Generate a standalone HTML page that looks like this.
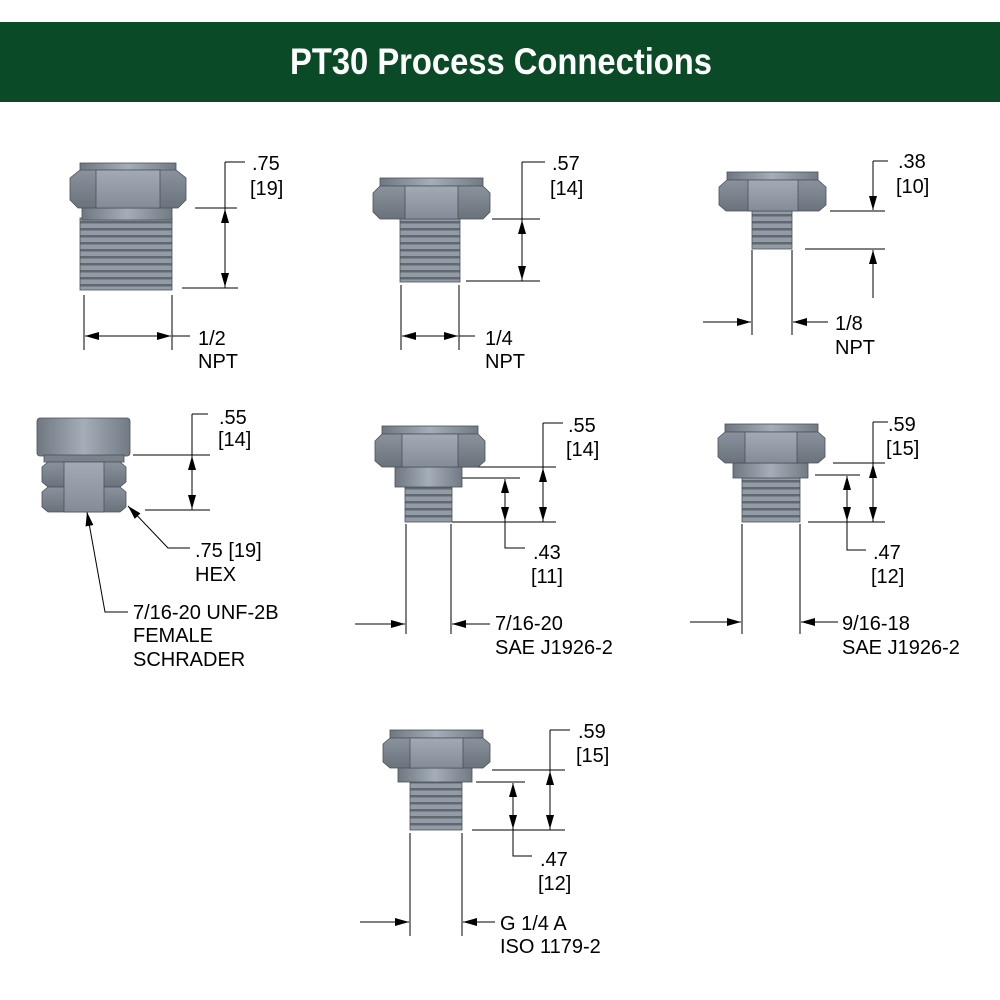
<!DOCTYPE html>
<html><head><meta charset="utf-8"><style>
html,body{margin:0;padding:0;background:#fff}
svg{display:block}
text{font-family:"Liberation Sans",Arial,sans-serif;font-size:20px;fill:#000}
</style></head><body>
<svg width="1000" height="1000" viewBox="0 0 1000 1000" xmlns="http://www.w3.org/2000/svg">
<defs>
<linearGradient id="hx" x1="0" y1="0" x2="0" y2="1"><stop offset="0" stop-color="#8a939d"/><stop offset="1" stop-color="#6a727c"/></linearGradient>
<linearGradient id="hf" x1="0" y1="0" x2="0" y2="1"><stop offset="0" stop-color="#a2abb5"/><stop offset="1" stop-color="#848d97"/></linearGradient>
<linearGradient id="cap" x1="0" y1="0" x2="1" y2="0"><stop offset="0" stop-color="#6f7781"/><stop offset=".5" stop-color="#a5aeb8"/><stop offset="1" stop-color="#727a84"/></linearGradient>
<pattern id="th" width="8" height="7" patternUnits="userSpaceOnUse"><rect width="8" height="7" fill="#939ca6"/><rect y="4" width="8" height="2.5" fill="#606870"/></pattern>
<marker id="a" markerWidth="14" markerHeight="8" refX="14" refY="4" orient="auto" markerUnits="userSpaceOnUse"><path d="M0,0 L14,4 L0,8 Z" fill="#000"/></marker>
</defs>
<rect x="0" y="22" width="1000" height="80" fill="#0b4a26"/>
<text x="290" y="74" textLength="422" lengthAdjust="spacingAndGlyphs" style="font-size:37px;font-weight:bold;fill:#fff">PT30 Process Connections</text>

<g stroke="#000" stroke-width="1" fill="none">
<!-- F1 -->
<line x1="225" y1="162" x2="245" y2="162"/><line x1="225" y1="162" x2="225" y2="288"/>
<line x1="225" y1="248" x2="225" y2="209" marker-end="url(#a)"/><line x1="225" y1="248" x2="225" y2="287" marker-end="url(#a)"/>
<line x1="195" y1="208" x2="237" y2="208"/><line x1="182" y1="288" x2="238" y2="288"/>
<line x1="84" y1="295" x2="84" y2="350"/><line x1="172" y1="295" x2="172" y2="350"/>
<line x1="128" y1="336" x2="85" y2="336" marker-end="url(#a)"/><line x1="128" y1="336" x2="171" y2="336" marker-end="url(#a)"/><line x1="172" y1="336" x2="190" y2="336"/>
<!-- F2 -->
<line x1="522" y1="162" x2="545" y2="162"/><line x1="522" y1="162" x2="522" y2="281"/>
<line x1="522" y1="250" x2="522" y2="220" marker-end="url(#a)"/><line x1="522" y1="250" x2="522" y2="280" marker-end="url(#a)"/>
<line x1="492" y1="219" x2="540" y2="219"/><line x1="466" y1="281" x2="540" y2="281"/>
<line x1="401" y1="285" x2="401" y2="350"/><line x1="459" y1="285" x2="459" y2="350"/>
<line x1="430" y1="336" x2="402" y2="336" marker-end="url(#a)"/><line x1="430" y1="336" x2="458" y2="336" marker-end="url(#a)"/><line x1="459" y1="336" x2="475" y2="336"/>
<!-- F3 -->
<line x1="873" y1="161" x2="888" y2="161"/><line x1="873" y1="161" x2="873" y2="210" marker-end="url(#a)"/>
<line x1="830" y1="211" x2="885" y2="211"/><line x1="805" y1="249" x2="885" y2="249"/>
<line x1="873" y1="298" x2="873" y2="250" marker-end="url(#a)"/>
<line x1="752" y1="250" x2="752" y2="335"/><line x1="792" y1="250" x2="792" y2="335"/>
<line x1="703" y1="322" x2="751" y2="322" marker-end="url(#a)"/><line x1="828" y1="322" x2="793" y2="322" marker-end="url(#a)"/>
<!-- F4 -->
<line x1="192" y1="414" x2="208" y2="414"/><line x1="192" y1="414" x2="192" y2="510"/>
<line x1="192" y1="484" x2="192" y2="456" marker-end="url(#a)"/><line x1="192" y1="484" x2="192" y2="509" marker-end="url(#a)"/>
<line x1="133" y1="455" x2="210" y2="455"/><line x1="145" y1="510" x2="210" y2="510"/>
<polyline points="190,548 168,548 128,506" marker-end="url(#a)"/>
<polyline points="128,612 105,612 87,512" marker-end="url(#a)"/>
<!-- F5 -->
<line x1="543" y1="423" x2="563" y2="423"/><line x1="543" y1="423" x2="543" y2="522"/>
<line x1="543" y1="494" x2="543" y2="468" marker-end="url(#a)"/><line x1="543" y1="494" x2="543" y2="521" marker-end="url(#a)"/>
<line x1="462" y1="467" x2="556" y2="467"/><line x1="462" y1="478" x2="520" y2="478"/><line x1="452" y1="522" x2="556" y2="522"/>
<line x1="505" y1="500" x2="505" y2="479" marker-end="url(#a)"/><line x1="505" y1="500" x2="505" y2="521" marker-end="url(#a)"/><polyline points="505,521 505,548 525,548"/>
<line x1="406" y1="524" x2="406" y2="634"/><line x1="451" y1="524" x2="451" y2="634"/>
<line x1="355" y1="624" x2="405" y2="624" marker-end="url(#a)"/><line x1="490" y1="624" x2="452" y2="624" marker-end="url(#a)"/>
<!-- F6 -->
<line x1="873" y1="422" x2="888" y2="422"/><line x1="873" y1="422" x2="873" y2="522"/>
<line x1="873" y1="494" x2="873" y2="464" marker-end="url(#a)"/><line x1="873" y1="494" x2="873" y2="521" marker-end="url(#a)"/>
<line x1="833" y1="463" x2="885" y2="463"/><line x1="815" y1="475" x2="860" y2="475"/><line x1="808" y1="522" x2="885" y2="522"/>
<line x1="847" y1="498" x2="847" y2="476" marker-end="url(#a)"/><line x1="847" y1="498" x2="847" y2="521" marker-end="url(#a)"/><polyline points="847,521 847,550 866,550"/>
<line x1="742" y1="524" x2="742" y2="634"/><line x1="800" y1="524" x2="800" y2="634"/>
<line x1="690" y1="622" x2="741" y2="622" marker-end="url(#a)"/><line x1="838" y1="622" x2="801" y2="622" marker-end="url(#a)"/>
<!-- F7 -->
<line x1="550" y1="730" x2="570" y2="730"/><line x1="550" y1="730" x2="550" y2="830"/>
<line x1="550" y1="800" x2="550" y2="771" marker-end="url(#a)"/><line x1="550" y1="800" x2="550" y2="829" marker-end="url(#a)"/>
<line x1="492" y1="770" x2="565" y2="770"/><line x1="476" y1="782" x2="525" y2="782"/><line x1="472" y1="830" x2="565" y2="830"/>
<line x1="513" y1="805" x2="513" y2="783" marker-end="url(#a)"/><line x1="513" y1="805" x2="513" y2="829" marker-end="url(#a)"/><polyline points="513,829 513,856 532,856"/>
<line x1="410" y1="833" x2="410" y2="936"/><line x1="462" y1="833" x2="462" y2="936"/>
<line x1="360" y1="922" x2="409" y2="922" marker-end="url(#a)"/><line x1="495" y1="922" x2="463" y2="922" marker-end="url(#a)"/>
</g>

<g stroke="#4a5058" stroke-width="0.8">
<!-- F1 -->
<rect x="80" y="218" width="92" height="72" fill="url(#th)"/>
<rect x="82" y="206" width="90" height="14" fill="url(#cap)"/>
<rect x="80" y="163" width="96" height="9" fill="url(#cap)"/>
<polygon points="70,178 80,170 176,170 186,178 186,200 178,208 78,208 70,200" fill="url(#hx)"/>
<polygon points="96,170 160,170 160,208 96,208" fill="url(#hf)"/>
<!-- F2 -->
<rect x="400" y="218" width="60" height="64" fill="url(#th)"/>
<rect x="380" y="178" width="103" height="8" fill="url(#cap)"/>
<polygon points="373,193 380,186 483,186 490,193 490,212 483,219 380,219 373,212" fill="url(#hx)"/>
<polygon points="405,186 458,186 458,219 405,219" fill="url(#hf)"/>
<!-- F3 -->
<rect x="752" y="211" width="40" height="38" fill="url(#th)"/>
<rect x="727" y="172" width="91" height="8" fill="url(#cap)"/>
<polygon points="719,187 727,180 818,180 826,187 826,205 819,211 726,211 719,205" fill="url(#hx)"/>
<polygon points="748,180 798,180 798,211 748,211" fill="url(#hf)"/>
<!-- F4 -->
<rect x="37" y="418" width="93" height="38" rx="3" fill="url(#cap)"/>
<rect x="44" y="455" width="80" height="7" fill="#7a828c"/>
<polygon points="42,467 48,462 120,462 126,467 126,482 120,487 48,487 42,482" fill="url(#hx)"/>
<polygon points="42,492 48,487 120,487 126,492 126,507 120,512 48,512 42,507" fill="url(#hx)"/>
<rect x="64" y="462" width="40" height="50" fill="url(#hf)"/>
<!-- F5 -->
<rect x="405" y="487" width="47" height="35" fill="url(#th)"/>
<rect x="395" y="467" width="67" height="20" fill="url(#cap)"/>
<rect x="382" y="426" width="96" height="8" fill="url(#cap)"/>
<polygon points="375,441 382,434 478,434 485,441 485,461 478,467 382,467 375,461" fill="url(#hx)"/>
<polygon points="402,434 458,434 458,467 402,467" fill="url(#hf)"/>
<!-- F6 -->
<rect x="742" y="478" width="58" height="44" fill="url(#th)"/>
<rect x="733" y="463" width="75" height="15" fill="url(#cap)"/>
<rect x="725" y="424" width="93" height="8" fill="url(#cap)"/>
<polygon points="718,438 725,432 818,432 825,438 825,457 818,463 725,463 718,457" fill="url(#hx)"/>
<polygon points="745,432 797,432 797,463 745,463" fill="url(#hf)"/>
<!-- F7 -->
<rect x="410" y="782" width="52" height="48" fill="url(#th)"/>
<rect x="398" y="767" width="74" height="15" fill="url(#cap)"/>
<rect x="390" y="730" width="93" height="8" fill="url(#cap)"/>
<polygon points="383,744 390,738 483,738 490,744 490,762 483,768 390,768 383,762" fill="url(#hx)"/>
<polygon points="410,738 463,738 463,768 410,768" fill="url(#hf)"/>
</g>

<text x="252" y="170">.75</text><text x="250" y="195">[19]</text>
<text x="198" y="345">1/2</text><text x="198" y="368">NPT</text>
<text x="552" y="170">.57</text><text x="550" y="195">[14]</text>
<text x="485" y="345">1/4</text><text x="485" y="368">NPT</text>
<text x="898" y="168">.38</text><text x="896" y="193">[10]</text>
<text x="835" y="330">1/8</text><text x="835" y="354">NPT</text>
<text x="219" y="424">.55</text><text x="218" y="446">[14]</text>
<text x="195" y="557">.75 [19]</text><text x="195" y="581">HEX</text>
<text x="133" y="619">7/16-20 UNF-2B</text><text x="133" y="642">FEMALE</text><text x="133" y="666">SCHRADER</text>
<text x="568" y="432">.55</text><text x="566" y="456">[14]</text>
<text x="533" y="559">.43</text><text x="531" y="583">[11]</text>
<text x="495" y="630">7/16-20</text><text x="495" y="654">SAE J1926-2</text>
<text x="888" y="431">.59</text><text x="886" y="455">[15]</text>
<text x="873" y="559">.47</text><text x="871" y="583">[12]</text>
<text x="842" y="630">9/16-18</text><text x="842" y="654">SAE J1926-2</text>
<text x="578" y="738">.59</text><text x="576" y="762">[15]</text>
<text x="540" y="866">.47</text><text x="538" y="890">[12]</text>
<text x="500" y="930">G 1/4 A</text><text x="500" y="953">ISO 1179-2</text>
</svg>
</body></html>
